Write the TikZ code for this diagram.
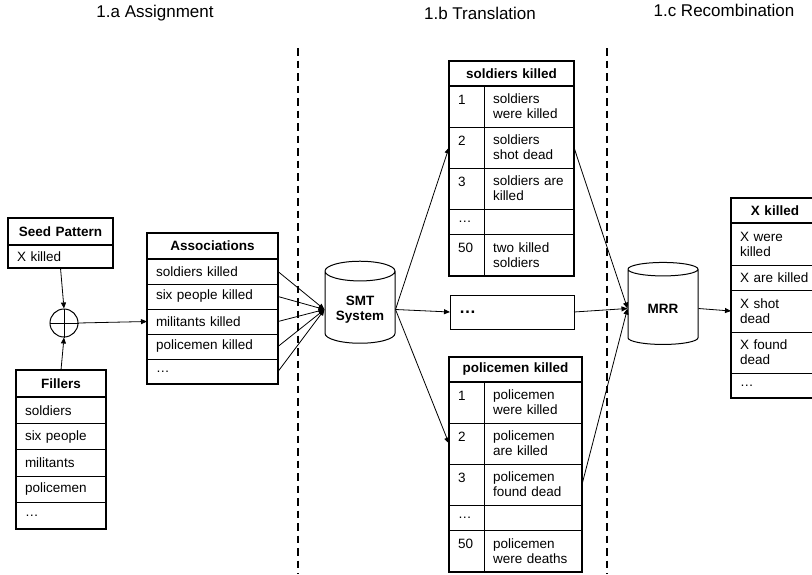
\documentclass[tikz,border=0pt]{standalone}
\usepackage{fontspec}
\setmainfont{Liberation Sans}
\usetikzlibrary{arrows.meta,shapes.geometric}

\begin{document}
\begin{tikzpicture}[x=1pt,y=-1pt,
    every node/.style={font=\fontsize{13.5}{15}\selectfont},
    cell/.style={draw, line width=0.8pt, anchor=north west, outer sep=0pt,
      inner xsep=9pt, inner ysep=0pt, align=left},
    hdrcell/.style={cell, line width=1.6pt, align=center,
      font=\fontsize{13.5}{15}\selectfont\bfseries},
    numcell/.style={cell, text width=17pt, minimum width=35pt,
      text height=10pt, text depth=15pt},
    box/.style={line width=2.4pt},
    db/.style={cylinder, shape border rotate=90, draw, line width=1pt,
      aspect=0.36, minimum width=70pt, minimum height=82pt, align=center,
      font=\fontsize{13.5}{15}\selectfont\bfseries},
    link/.style={line width=0.8pt, -{Triangle[length=6pt,width=5pt]}},
    title/.style={font=\fontsize{17}{20}\selectfont},
    sep/.style={line width=1.6pt, dash pattern=on 7.5pt off 5pt}]
    \useasboundingbox (0,0) rectangle (812,574);
    \clip (0,0) rectangle (812,574);

    % Titles
    \node[title] (ta) at (155,13) {1.a Assignment};
    \node[title] (tb) at (480,13) {1.b Translation};
    \node[title] (tc) at (724,10) {1.c Recombination};

    % Separators
    \draw[sep] (298,48) -- (298,574);
    \draw[sep] (607,48) -- (607,574);

    % Seed pattern
    \node[hdrcell, text width=87pt, minimum height=27pt] (seed) at (8,218) {Seed Pattern};
    \node[cell, text width=87pt, minimum height=23pt] (seed1) at (8,245) {X killed};
    \draw[box] (seed.north west) rectangle (seed1.south east);

    % Fillers
    \node[hdrcell, text width=72pt, minimum height=27pt] (fill) at (16,370) {Fillers};
    \node[cell, text width=72pt, minimum height=26.4pt] (fill1) at (16,397) {soldiers};
    \node[cell, text width=72pt, minimum height=26.4pt] (fill2) at (16,423.4) {six people};
    \node[cell, text width=72pt, minimum height=26.4pt] (fill3) at (16,449.8) {militants};
    \node[cell, text width=72pt, minimum height=26.4pt] (fill4) at (16,476.2) {policemen};
    \node[cell, text width=72pt, minimum height=26.4pt] (fill5) at (16,502.6) {…};
    \draw[box] (fill.north west) rectangle (fill5.south east);

    % Combination
    \node[draw, circle, line width=1pt, minimum size=28pt, inner sep=0pt] (plus) at (64,323) {};
    \draw[line width=0.8pt] (plus.north) -- (plus.south) (plus.west) -- (plus.east);
    \draw[link] (seed1.south) -- (plus.north);
    \draw[link] (fill.north) -- (plus.south);

    % Associations
    \node[hdrcell, text width=113pt, minimum height=26pt] (assoc) at (147,233) {Associations};
    \node[cell, text width=113pt, minimum height=25pt] (assoc1) at (147,259) {soldiers killed};
    \node[cell, text width=113pt, minimum height=25pt] (assoc2) at (147,284) {six people killed};
    \node[cell, text width=113pt, minimum height=25pt] (assoc3) at (147,309) {militants killed};
    \node[cell, text width=113pt, minimum height=25pt] (assoc4) at (147,334) {policemen killed};
    \node[cell, text width=113pt, minimum height=25pt] (assoc5) at (147,359) {…};
    \draw[box] (assoc.north west) rectangle (assoc5.south east);
    \draw[link] (plus.east) -- (assoc3.west);

    % SMT
    \node[db] (smt) at (360,309.5) {SMT\\System};
    \foreach \r in {1,...,5}
      \draw[link] (assoc\r.east) -- (smt.west);

    % soldiers killed
    \node[hdrcell, text width=107pt, minimum height=25pt] (sk) at (449,61) {soldiers killed};
    \node[numcell, minimum height=41pt] (sk1n) at (449,86) {1};
    \node[cell, text width=72pt, minimum height=41pt] (sk1) at (484,86) {soldiers\\were killed};
    \node[numcell, minimum height=41pt] (sk2n) at (449,127) {2};
    \node[cell, text width=72pt, minimum height=41pt] (sk2) at (484,127) {soldiers\\shot dead};
    \node[numcell, minimum height=41pt] (sk3n) at (449,168) {3};
    \node[cell, text width=72pt, minimum height=41pt] (sk3) at (484,168) {soldiers are\\killed};
    \node[cell, text width=17pt, minimum height=25pt] (sk4n) at (449,209) {…};
    \node[cell, text width=72pt, minimum height=25pt] (sk4) at (484,209) {};
    \node[numcell, minimum height=42pt] (sk5n) at (449,234) {50};
    \node[cell, text width=72pt, minimum height=42pt] (sk5) at (484,234) {two killed\\soldiers};
    \draw[box] (sk.north west) rectangle (sk5.south east);

    % other translations
    \node[cell, text width=106pt, minimum height=34pt,
      font=\fontsize{17}{20}\selectfont\bfseries] (more) at (450,295) {…};

    % policemen killed
    \node[hdrcell, text width=115pt, minimum height=25pt] (pk) at (449,357) {policemen killed};
    \node[numcell, minimum height=41pt] (pk1n) at (449,382) {1};
    \node[cell, text width=80pt, minimum height=41pt] (pk1) at (484,382) {policemen\\were killed};
    \node[numcell, minimum height=41pt] (pk2n) at (449,423) {2};
    \node[cell, text width=80pt, minimum height=41pt] (pk2) at (484,423) {policemen\\are killed};
    \node[numcell, minimum height=41pt] (pk3n) at (449,464) {3};
    \node[cell, text width=80pt, minimum height=41pt] (pk3) at (484,464) {policemen\\found dead};
    \node[cell, text width=17pt, minimum height=25pt] (pk4n) at (449,505) {…};
    \node[cell, text width=80pt, minimum height=25pt] (pk4) at (484,505) {};
    \node[numcell, minimum height=42pt] (pk5n) at (449,530) {50};
    \node[cell, text width=80pt, minimum height=42pt] (pk5) at (484,530) {policemen\\were deaths};
    \draw[box] (pk.north west) rectangle (pk5.south east);

    \draw[link] (smt.east) -- (sk2n.west);
    \draw[link] (smt.east) -- (more.west);
    \draw[link] (smt.east) -- (pk2n.west);

    % MRR
    \node[db] (mrr) at (663,308.5) {MRR};
    \draw[link] (sk2.east) -- (mrr.west);
    \draw[link] (more.east) -- (mrr.west);
    \draw[link] (pk3.east) -- (mrr.west);

    % X killed
    \node[hdrcell, text width=70pt, minimum height=25pt] (xk) at (731,198) {X killed};
    \node[cell, text width=70pt, minimum height=42pt] (xk1) at (731,223) {X were\\killed};
    \node[cell, text width=70pt, minimum height=25pt] (xk2) at (731,265) {X are killed};
    \node[cell, text width=70pt, minimum height=42pt] (xk3) at (731,290) {X shot\\dead};
    \node[cell, text width=70pt, minimum height=41pt] (xk4) at (731,332) {X found\\dead};
    \node[cell, text width=70pt, minimum height=25pt] (xk5) at (731,373) {…};
    \draw[box] (xk.north west) rectangle (xk5.south east);
    \draw[link] (mrr.east) -- (xk3.west);
\end{tikzpicture}
\end{document}
